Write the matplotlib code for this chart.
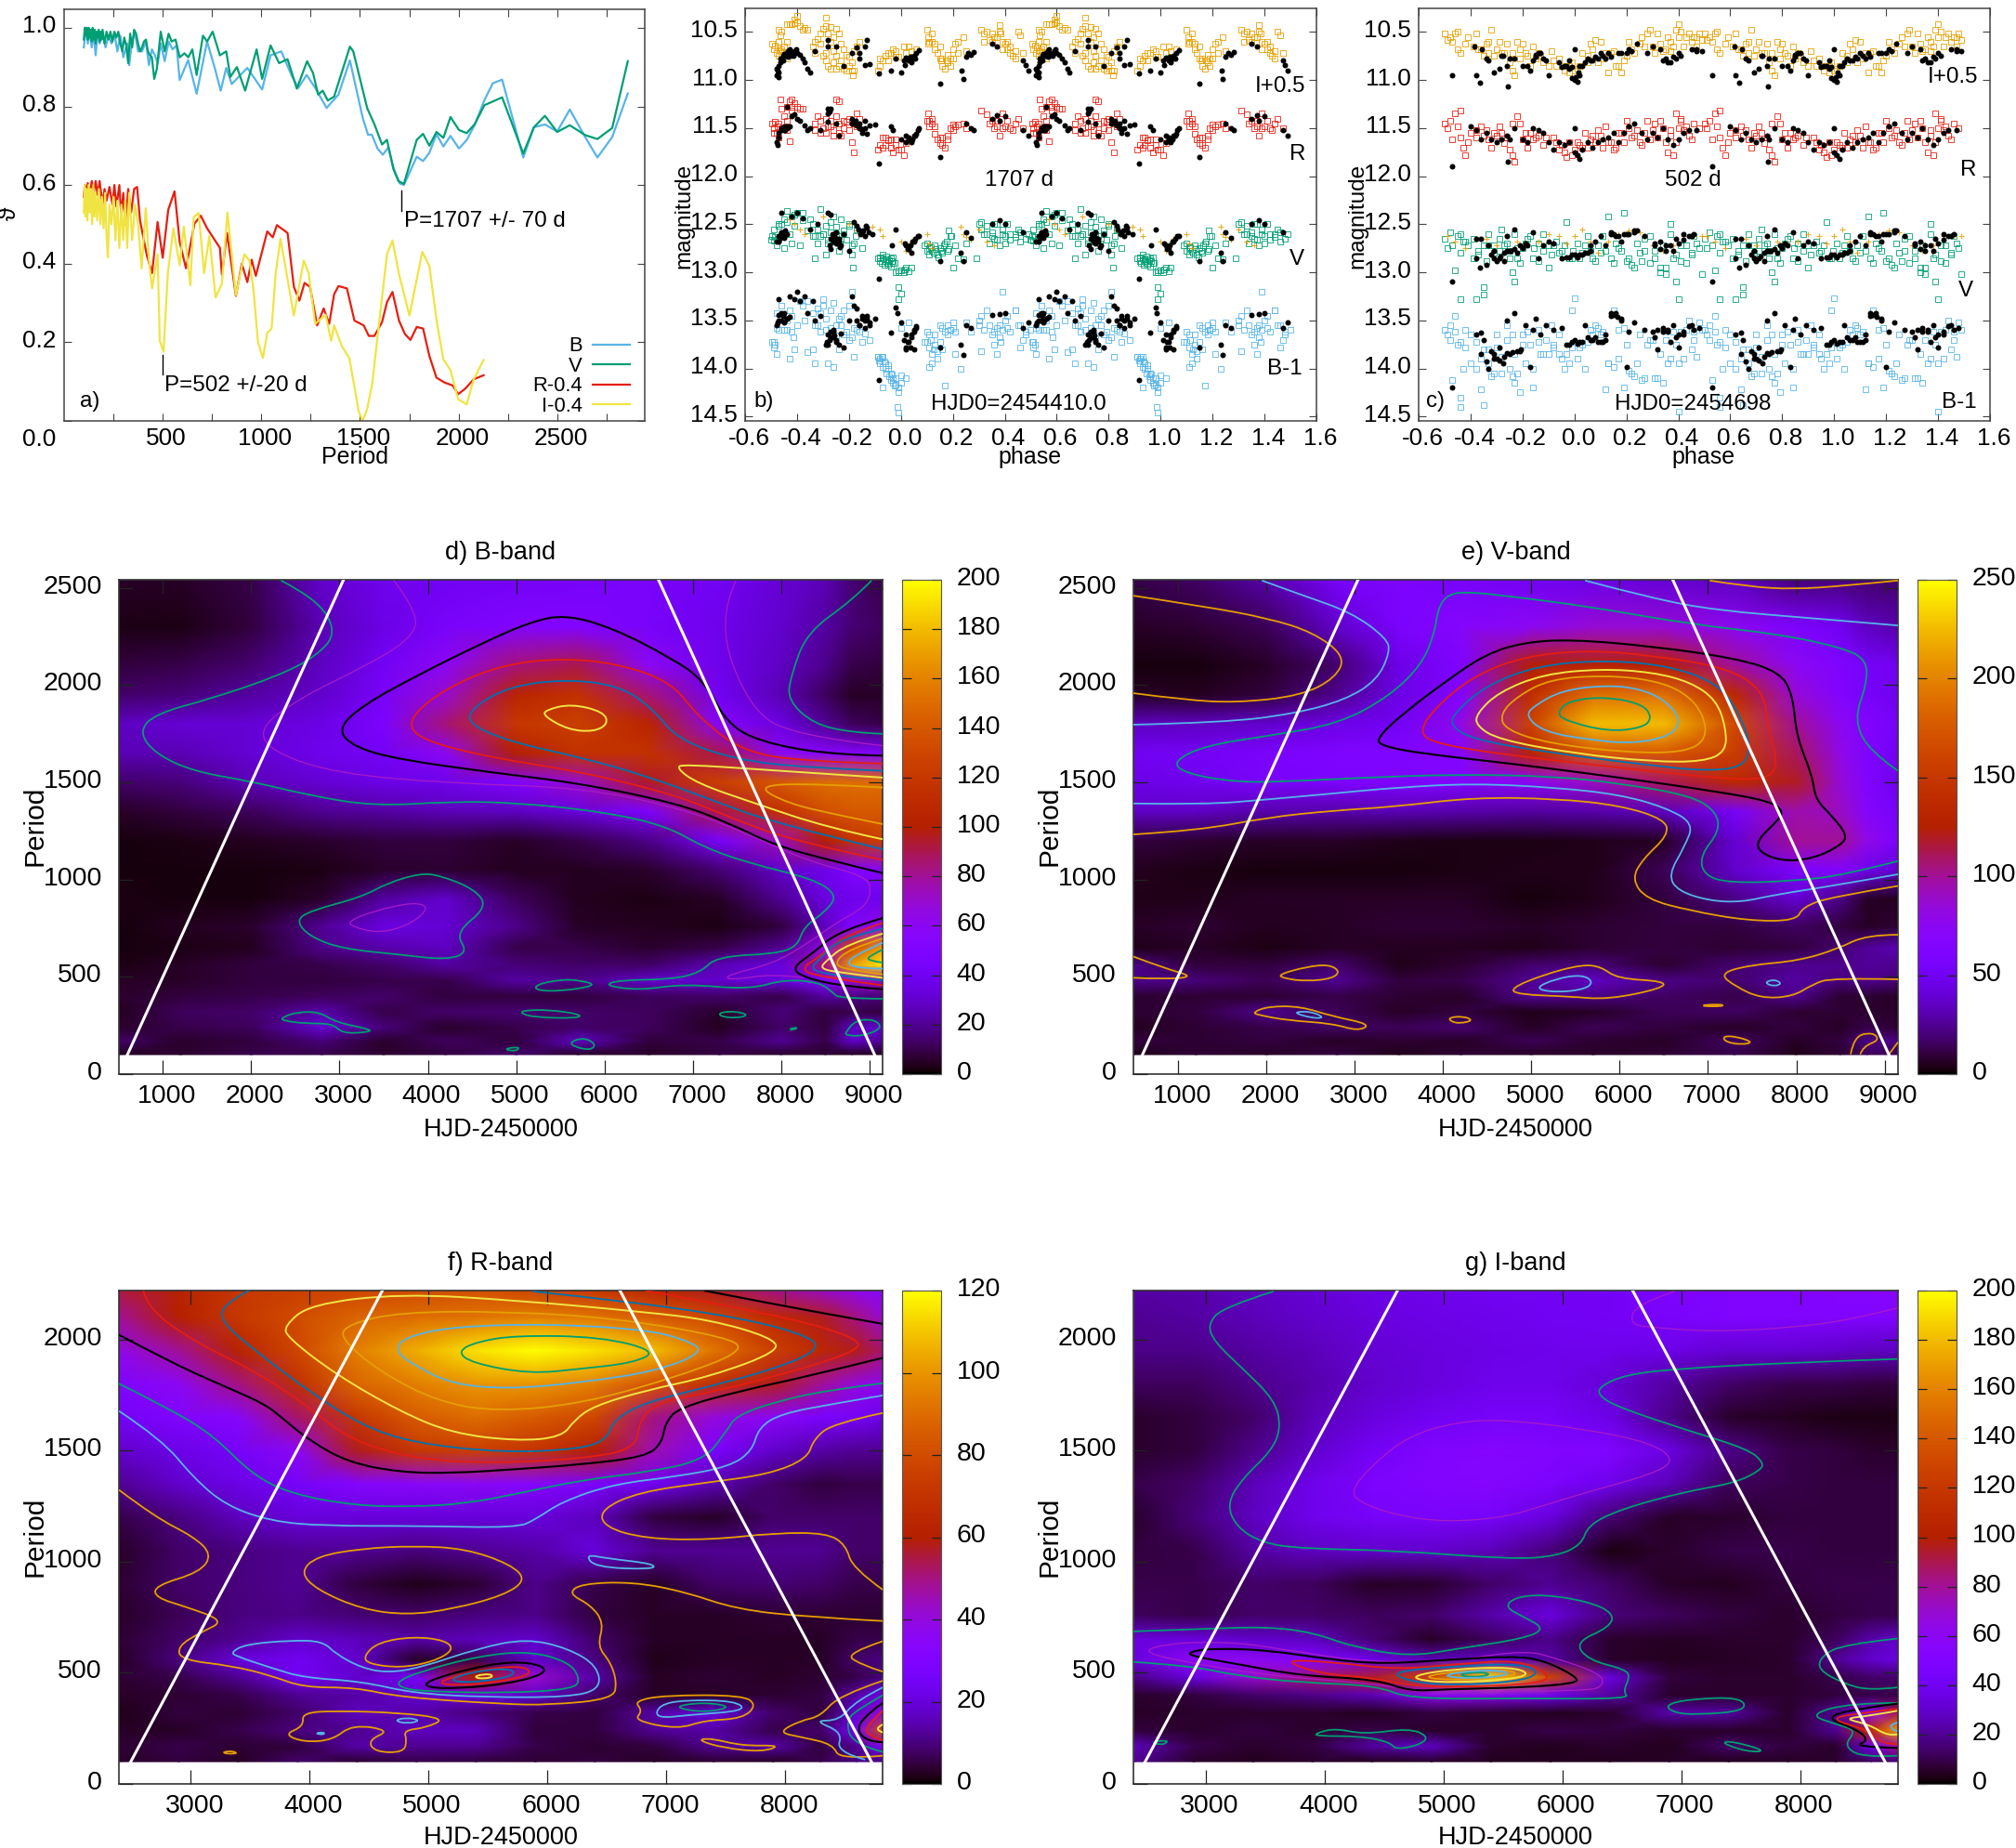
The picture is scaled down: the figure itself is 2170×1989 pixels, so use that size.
import numpy as np
import matplotlib
matplotlib.use('Agg')
import matplotlib.pyplot as plt
from matplotlib.path import Path
from matplotlib.patches import PathPatch
from matplotlib.transforms import ScaledTranslation

plt.rcParams['font.family'] = ['Liberation Sans', 'DejaVu Sans']
W, H = 2170, 1989
FS_NOTE = 17.4
FS_TICK = 18.8
FS_HEAT = 20.5
FS_LABEL = 19.5

SKY, GREEN, ORANGE, YELLOW, BLUE, RED, PURPLE = '#56b4e9', '#009e73', '#e69f00', '#f0e442', '#0072b2', '#e51e10', '#a81cc8'

# ---- panel a: theta statistics
v_curve = [(100,.97),(105,1.0),(110,.98),(115,1.0),(120,.97),(125,1.0),(130,.975),(135,.995),(140,.965),(145,1.0),(150,.97),(155,.995),(160,.96),(165,.99),(170,.975),(175,.995),(180,.965),(185,.99),(190,.97),(195,.995),(205,.96),(215,.99),(225,.97),(235,.99),(245,.965),(255,.99),(265,.975),(275,.99),(285,.96),(295,.94),(305,.975),(315,.955),(325,.91),(335,.985),(345,.95),(355,.995),(365,.985),(375,.96),(385,.94),(395,.95),(405,.965),(415,.97),(425,.94),(435,.93),(445,.925),(457,.87),(470,.895),(490,.99),(510,.94),(530,.985),(545,.965),(565,.97),(586,.925),(610,.935),(630,.925),(650,.945),(672,.88),(704,.98),(725,.965),(753,.99),(790,.93),(822,.94),(843,.875),(876,.90),(918,.84),(976,.945),(1004,.87),(1047,.955),(1090,.91),(1133,.92),(1180,.845),(1232,.915),(1262,.885),(1288,.83),(1311,.84),(1337,.815),(1369,.825),(1449,.952),(1466,.94),(1537,.795),(1573,.755),(1612,.703),(1637,.715),(1670,.64),(1695,.61),(1723,.603),(1788,.715),(1820,.73),(1852,.70),(1888,.735),(1923,.72),(1959,.773),(2002,.74),(2041,.732),(2082,.755),(2131,.803),(2221,.823),(2328,.68),(2382,.747),(2438,.776),(2500,.735),(2564,.752),(2642,.727),(2704,.717),(2779,.745),(2858,.915)]
b_curve = [(100,.95),(110,1.0),(120,.96),(130,.99),(140,.95),(150,.985),(160,.93),(170,.99),(180,.96),(195,.985),(210,.95),(225,.98),(240,.96),(255,.985),(270,.94),(285,.98),(300,.925),(320,.96),(330,.905),(345,.97),(360,.985),(375,.94),(395,.94),(415,.965),(430,.905),(445,.945),(460,.93),(475,.91),(490,.96),(510,.915),(530,.965),(550,.945),(570,.955),(586,.867),(629,.918),(672,.832),(725,.965),(768,.89),(794,.84),(822,.898),(850,.857),(929,.898),(1004,.843),(1047,.93),(1101,.94),(1154,.878),(1187,.847),(1230,.88),(1273,.847),(1331,.796),(1391,.83),(1449,.917),(1515,.769),(1541,.728),(1560,.728),(1590,.692),(1616,.677),(1644,.696),(1670,.643),(1702,.604),(1723,.60),(1788,.672),(1820,.661),(1852,.682),(1888,.729),(1923,.698),(1959,.725),(2002,.693),(2041,.714),(2082,.753),(2131,.816),(2174,.859),(2221,.868),(2328,.67),(2382,.747),(2438,.754),(2500,.736),(2564,.792),(2642,.722),(2704,.67),(2779,.722),(2858,.833)]
r_curve = [(100,.57),(105,.6),(110,.575),(120,.605),(130,.57),(140,.61),(150,.58),(160,.61),(170,.575),(180,.61),(195,.55),(205,.59),(215,.56),(230,.595),(245,.55),(255,.60),(265,.545),(280,.60),(290,.52),(300,.58),(310,.50),(325,.59),(340,.53),(355,.59),(370,.595),(385,.51),(403,.463),(420,.42),(446,.376),(474,.506),(500,.415),(528,.537),(560,.584),(586,.455),(618,.388),(661,.502),(693,.522),(725,.49),(790,.44),(800,.372),(826,.478),(871,.318),(901,.40),(929,.353),(951,.41),(972,.369),(1030,.482),(1058,.467),(1079,.498),(1133,.478),(1165,.341),(1193,.306),(1219,.351),(1247,.341),(1283,.243),(1316,.286),(1344,.247),(1369,.322),(1391,.343),(1434,.337),(1472,.255),(1519,.243),(1545,.216),(1573,.216),(1612,.251),(1637,.302),(1665,.328),(1698,.255),(1728,.221),(1756,.206),(1788,.239),(1820,.235),(1852,.165),(1888,.11),(1927,.098),(1970,.09),(1998,.068),(2034,.082),(2077,.106),(2127,.116)]
i_curve = [(100,.53),(104,.60),(108,.52),(112,.59),(118,.51),(124,.60),(130,.53),(136,.59),(142,.50),(148,.60),(154,.52),(160,.58),(168,.51),(176,.59),(184,.50),(192,.57),(200,.49),(208,.58),(215,.47),(222,.416),(230,.55),(240,.50),(250,.57),(260,.46),(270,.56),(280,.44),(290,.55),(300,.46),(310,.56),(320,.44),(330,.58),(345,.46),(360,.55),(375,.50),(393,.388),(414,.541),(430,.41),(446,.337),(474,.424),(485,.204),(504,.176),(526,.376),(554,.49),(586,.396),(607,.494),(640,.345),(657,.518),(682,.529),(710,.376),(736,.47),(768,.314),(800,.349),(828,.53),(871,.32),(914,.424),(940,.408),(961,.33),(983,.20),(1008,.16),(1030,.224),(1052,.235),(1073,.376),(1097,.463),(1133,.361),(1165,.268),(1215,.408),(1240,.376),(1273,.247),(1326,.27),(1354,.204),(1369,.243),(1408,.19),(1446,.16),(1494,.024),(1513,0),(1535,.027),(1562,.094),(1637,.424),(1665,.459),(1698,.373),(1751,.268),(1816,.43),(1852,.394),(1890,.25),(1923,.157),(1959,.129),(1998,.055),(2041,.042),(2077,.106),(2127,.155)]

# ---- panel b: folded light curves, phase 1707 d (drawn at phase and phase+1)
b_I = [(-.495,10.62),(-.49,10.68),(-.485,10.64),(-.48,10.72),(-.475,10.66),(-.47,10.75),(-.465,10.7),(-.46,10.5),(-.465,10.54),(-.47,10.48),(-.45,10.65),(-.44,10.78),(-.44,10.42),(-.43,10.42),(-.42,10.42),(-.41,10.41),(-.41,10.37),(-.40,10.4),(-.40,10.33),(-.39,10.44),(-.38,10.48),(-.37,10.46),(-.36,10.48),(-.33,10.6),(-.32,10.57),(-.31,10.52),(-.30,10.47),(-.29,10.35),(-.29,10.44),(-.28,10.52),(-.27,10.45),(-.26,10.55),(-.25,10.47),(-.24,10.52),(-.23,10.62),(-.22,10.68),(-.21,10.74),(-.3,10.75),(-.29,10.8),(-.28,10.85),(-.27,10.88),(-.26,10.82),(-.25,10.88),(-.24,10.85),(-.23,10.8),(-.2,10.76),(-.19,10.82),(-.185,10.95),(-.18,10.9),(-.18,10.7),(-.17,10.65),(-.16,10.6),(-.09,10.9),(-.08,10.85),(-.07,10.8),(-.06,10.75),(-.05,10.8),(-.04,10.72),(-.03,10.68),(-.02,10.7),(-.01,10.76),(.01,10.65),(.02,10.72),(.04,10.7),(.06,10.68),(.1,10.48),(.105,10.55),(.11,10.6),(.12,10.6),(.13,10.68),(.14,10.72),(.15,10.65),(.155,10.8),(.16,10.85),(.17,10.88),(.175,10.8),(.18,10.82),(.19,10.78),(.2,10.68),(.21,10.62),(.22,10.6),(.24,10.55),(.25,10.7),(.31,10.48),(.32,10.52),(.33,10.5),(.34,10.58),(.35,10.6),(.36,10.55),(.37,10.55),(.38,10.43),(.385,10.52),(.39,10.6),(.40,10.62),(.41,10.68),(.42,10.72),(.43,10.75),(.44,10.78),(.45,10.5),(.46,10.54),(.47,10.72),
       (-.47,10.6),(-.46,10.68),(-.45,10.72),(-.44,10.6),(-.34,10.65),(-.33,10.72),(-.31,10.62),(-.29,10.72),(-.27,10.6),(-.26,10.7),(-.25,10.75),(-.22,10.88),(-.21,10.9),(-.2,10.85),(-.19,10.9),(-.08,10.78),(-.05,10.72),(-.02,10.76),(.03,10.65),(.105,10.62),(.12,10.52),(.13,10.62),(.15,10.78),(.16,10.78),(.18,10.74),(.19,10.85),(.2,10.78),(.22,10.72),(.32,10.6),(.35,10.52),(.38,10.5),(.39,10.68),(.41,10.6),(.42,10.65),(.44,10.7)]
b_I_k = [(-.48,10.95),(-.475,10.9),(-.47,10.97),(-.47,10.85),(-.465,10.82),(-.46,10.8),(-.455,10.75),(-.45,10.73),(-.44,10.72),(-.435,10.76),(-.43,10.68),(-.425,10.75),(-.41,10.7),(-.4,10.72),(-.39,10.74),(-.38,10.78),(-.37,10.82),(-.36,10.88),(-.35,10.92),(-.33,10.7),(-.28,10.65),(-.28,10.58),(-.25,10.65),(-.22,10.85),(-.19,10.72),(-.17,10.66),(-.16,10.72),(-.16,10.78),(-.14,10.65),(-.13,10.58),(-.14,10.84),(-.12,10.83),(-.085,10.93),(-.04,10.9),(-.02,10.78),(0,10.92),(.02,10.77),(.03,10.8),(.04,10.82),(.05,10.75),(.06,10.72),(.07,10.69),(.15,11.04),(.235,10.9),(.24,10.99),(.25,10.76),(.26,10.72),(.27,10.74),(.28,10.71),(.35,10.62),(.37,10.65),(.47,10.8),(.48,10.84),(.49,10.9),
         (-.48,10.88),(-.47,10.92),(-.465,10.78),(-.455,10.8),(-.445,10.75),(-.435,10.7),(-.425,10.72),(-.415,10.75),(-.405,10.68),(.01,10.8),(.015,10.84),(.035,10.76),(.045,10.78),(.055,10.78)]
b_R = [(-.495,11.45),(-.49,11.5),(-.485,11.43),(-.48,11.55),(-.475,11.48),(-.47,11.6),(-.47,11.45),(-.46,11.3),(-.465,11.2),(-.45,11.38),(-.44,11.28),(-.43,11.22),(-.42,11.2),(-.42,11.32),(-.41,11.24),(-.40,11.28),(-.39,11.3),(-.38,11.3),(-.43,11.64),(-.44,11.52),(-.33,11.52),(-.32,11.38),(-.31,11.42),(-.30,11.5),(-.29,11.55),(-.28,11.48),(-.27,11.42),(-.26,11.52),(-.25,11.2),(-.24,11.22),(-.24,11.45),(-.23,11.58),(-.22,11.5),(-.21,11.43),(-.2,11.52),(-.19,11.65),(-.18,11.75),(-.18,11.45),(-.17,11.35),(-.16,11.4),(-.09,11.72),(-.08,11.68),(-.07,11.6),(-.06,11.68),(-.05,11.63),(-.04,11.7),(-.03,11.75),(-.02,11.62),(-.01,11.72),(.01,11.78),(.02,11.66),(.1,11.42),(.105,11.35),(.11,11.48),(.12,11.45),(.13,11.56),(.14,11.62),(.15,11.66),(.16,11.6),(.17,11.7),(.18,11.58),(.19,11.5),(.2,11.52),(.22,11.46),(.24,11.45),(.25,11.5),(.31,11.32),(.33,11.36),(.34,11.45),(.36,11.5),(.37,11.42),(.38,11.58),(.39,11.35),(.40,11.48),(.42,11.5),(.44,11.45),(.45,11.4),(.47,11.5),
       (-.49,11.55),(-.46,11.5),(-.44,11.42),(-.42,11.28),(-.33,11.45),(-.31,11.55),(-.29,11.4),(-.27,11.48),(-.26,11.58),(-.25,11.38),(-.24,11.55),(-.22,11.42),(-.2,11.4),(-.17,11.48),(-.07,11.7),(-.06,11.6),(-.04,11.62),(-.02,11.68),(.0,11.72),(.11,11.42),(.12,11.4),(.13,11.48),(.15,11.6),(.16,11.68),(.18,11.62),(.2,11.46),(.21,11.48),(.35,11.42),(.37,11.48),(.39,11.5),(.41,11.42),(.43,11.52)]
b_R_k = [(-.48,11.65),(-.475,11.68),(-.47,11.6),(-.46,11.5),(-.45,11.52),(-.44,11.5),(-.43,11.48),(-.44,11.28),(-.42,11.38),(-.41,11.36),(-.4,11.4),(-.39,11.42),(-.37,11.47),(-.36,11.52),(-.35,11.5),(-.31,11.52),(-.28,11.3),(-.27,11.3),(-.28,11.43),(-.25,11.45),(-.24,11.58),(-.19,11.4),(-.18,11.44),(-.17,11.47),(-.16,11.5),(-.15,11.55),(-.14,11.42),(-.13,11.56),(-.12,11.47),(-.1,11.46),(-.085,11.87),(-.04,11.48),(-.03,11.52),(0,11.62),(.02,11.58),(.03,11.62),(.04,11.65),(.05,11.58),(.06,11.56),(.07,11.5),(.15,11.8),(.25,11.45),(.27,11.5),(.28,11.52),(.35,11.4),(.37,11.37),(.38,11.42),(.4,11.38),(.47,11.52),(.49,11.58),
         (-.47,11.55),(-.46,11.52),(-.455,11.5),(-.45,11.48),(-.445,11.52),(-.44,11.48),(-.28,11.35),(-.275,11.33),(-.19,11.45),(-.175,11.42),(-.16,11.45),(-.155,11.5),(.02,11.65),(.03,11.6),(.045,11.62),(.055,11.58),(.065,11.52),(-.15,11.52),(-.14,11.5)]
b_V = [(-.495,12.62),(-.49,12.67),(-.485,12.63),(-.48,12.72),(-.47,12.5),(-.47,12.65),(-.46,12.5),(-.45,12.45),(-.44,12.36),(-.45,12.75),(-.43,12.6),(-.42,12.7),(-.41,12.4),(-.39,12.72),(-.38,12.38),(-.35,12.45),(-.34,12.62),(-.33,12.85),(-.32,12.7),(-.31,12.34),(-.30,12.6),(-.29,12.82),(-.28,12.7),(-.27,12.48),(-.26,12.42),(-.25,12.6),(-.24,12.78),(-.23,12.45),(-.22,12.6),(-.2,12.52),(-.19,12.82),(-.185,12.95),(-.18,12.7),(-.17,12.55),(-.15,12.75),(-.09,12.85),(-.08,12.88),(-.07,12.82),(-.06,12.86),(-.05,12.9),(-.04,12.85),(-.03,12.9),(-.02,13.0),(-.01,12.98),(.01,13.0),(.02,12.95),(-.01,13.15),(0,13.22),(-.01,13.28),(.1,12.7),(.11,12.75),(.12,12.78),(.13,12.72),(.14,12.82),(.15,12.75),(.16,12.8),(.17,12.7),(.18,12.78),(.19,12.62),(.2,12.95),(.21,12.72),(.22,12.85),(.24,12.86),(.25,12.7),(.29,12.85),(.31,12.48),(.32,12.6),(.33,12.52),(.34,12.7),(.35,12.58),(.36,12.65),(.37,12.5),(.38,12.72),(.39,12.6),(.40,12.7),(.42,12.6),(.44,12.63),(.46,12.58),(.48,12.65),
       (-.32,12.55),(-.31,12.62),(-.30,12.6),(-.29,12.52),(-.28,12.66),(-.27,12.58),(-.26,12.68),(-.25,12.53),(-.24,12.62),(-.235,12.7),(-.22,12.56),(-.21,12.66),(-.2,12.5),(-.19,12.72),(-.175,12.62),(-.08,12.84),(-.075,12.9),(-.07,12.85),(-.065,12.92),(-.06,12.88),(-.055,12.83),(-.05,12.92),(-.045,12.87),(-.04,12.94),(-.035,12.88),(-.03,12.84),(-.025,12.9),(-.01,13.0),(.0,12.98),(.015,12.97),(.03,12.99),(.04,12.95),(.09,12.72),(.1,12.78),(.11,12.82),(.115,12.74),(.125,12.8),(.135,12.76),(.145,12.84),(.155,12.78),(.165,12.72),(.175,12.68),(.185,12.76),(.195,12.62),(.185,12.56),(.3,12.5),(.31,12.55),(.33,12.6),(.35,12.62),(.36,12.5),(.37,12.66),(.39,12.55),(.4,12.62),(.41,12.5),(.42,12.66),(.44,12.6),(.45,12.55),(.46,12.68),(.49,12.6),(-.5,12.66),(-.49,12.55),(-.47,12.52),(-.46,12.6),(-.44,12.48),(-.42,12.42),(-.41,12.52),(-.4,12.38),(-.38,12.46),(-.36,12.56),(-.34,12.5),(-.33,12.62)]
b_V_o = [(-.43,12.45),(-.41,12.5),(-.39,12.55),(-.37,12.6),(-.35,12.55),(-.3,12.42),(-.2,12.5),(-.17,12.56),(-.15,12.6),(-.13,12.55),(-.11,12.53),(-.08,12.55),(-.07,12.62),(.0,12.68),(.02,12.78),(.03,12.72),(.05,12.65),(.1,12.6),(.11,12.7),(.12,12.75),(.23,12.53),(.24,12.6),(.25,12.63),(.27,12.66),(.3,12.55),(.33,12.68),(.36,12.72)]
b_V_k = [(-.48,12.68),(-.47,12.62),(-.46,12.58),(-.45,12.64),(-.44,12.6),(-.46,12.38),(-.42,12.42),(-.4,12.38),(-.38,12.44),(-.35,12.55),(-.32,12.5),(-.28,12.38),(-.27,12.4),(-.26,12.62),(-.25,12.7),(-.24,12.65),(-.23,12.72),(-.22,12.6),(-.2,12.78),(-.18,12.48),(-.17,12.52),(-.15,12.58),(-.14,12.62),(-.13,12.54),(-.11,12.6),(-.085,13.07),(-.035,12.72),(-.02,12.55),(.02,12.72),(.03,12.76),(.04,12.8),(.05,12.68),(.07,12.62),(.15,12.88),(.23,12.8),(.24,12.88),(.25,12.58),(.27,12.64),(.35,12.5),(.38,12.46),(.4,12.5),(.47,12.58),
         (-.275,12.72),(-.27,12.65),(-.265,12.6),(-.26,12.68),(-.255,12.62),(-.25,12.58),(-.245,12.65),(-.24,12.68),(-.235,12.74),(-.27,12.76),(-.165,12.55),(-.155,12.6),(-.145,12.56),(-.135,12.52),(-.125,12.58),(.015,12.7),(.025,12.76),(.035,12.72),(.045,12.68),(.055,12.65),(.065,12.62),(-.47,12.68),(-.465,12.64),(-.46,12.6),(-.455,12.62),(-.45,12.58),(-.445,12.56)]
b_B = [(-.495,13.72),(-.49,13.78),(-.485,13.75),(-.48,13.85),(-.48,13.42),(-.47,13.6),(-.46,13.35),(-.45,13.6),(-.44,13.5),(-.43,13.4),(-.42,13.62),(-.41,13.8),(-.39,13.3),(-.37,13.5),(-.36,13.83),(-.34,13.8),(-.33,13.95),(-.32,13.55),(-.31,13.42),(-.3,13.35),(-.29,13.6),(-.28,13.95),(-.27,13.4),(-.26,13.98),(-.25,13.55),(-.24,13.8),(-.23,13.45),(-.22,13.65),(-.2,13.35),(-.19,13.2),(-.18,13.88),(-.17,13.6),(-.15,13.72),(-.12,13.7),(-.09,13.88),(-.08,13.9),(-.07,13.88),(-.06,13.95),(-.05,14.0),(-.04,14.05),(-.03,14.1),(-.02,14.17),(-.01,14.25),(.0,14.15),(.02,14.1),(-.015,14.4),(-.01,14.46),(-.07,14.2),(.0,13.58),(.03,13.52),(.1,13.72),(.11,13.65),(.12,13.85),(.13,13.75),(.14,13.9),(.15,13.55),(.16,13.8),(.17,14.18),(.18,13.65),(.19,13.6),(.2,13.52),(.21,13.85),(.23,14.0),(.25,13.52),(.27,13.62),(.3,13.5),(.31,13.82),(.33,13.4),(.35,13.65),(.36,13.75),(.37,13.85),(.38,13.55),(.39,13.2),(.41,13.58),(.44,13.4),(.46,13.55),(.48,13.65),
       (-.38,13.35),(-.36,13.3),(-.34,13.42),(-.33,13.55),(-.32,13.38),(-.31,13.62),(-.3,13.28),(-.29,13.48),(-.27,13.58),(-.26,13.32),(-.25,13.66),(-.24,13.48),(-.23,13.55),(-.22,13.4),(-.21,13.62),(-.2,13.7),(-.19,13.68),(-.18,13.58),(-.16,13.62),(-.14,13.64),(-.09,13.88),(-.085,13.92),(-.08,13.95),(-.075,13.88),(-.07,13.98),(-.065,13.93),(-.06,14.0),(-.055,14.05),(-.05,13.97),(-.045,14.08),(-.04,14.12),(-.035,14.06),(-.03,14.15),(-.025,14.18),(-.02,14.1),(-.01,14.2),(0,14.07),(.09,13.72),(.1,13.62),(.11,13.78),(.115,13.7),(.125,13.8),(.13,13.65),(.14,13.82),(.15,13.72),(.16,13.58),(.17,13.62),(.18,13.55),(.19,13.6),(.2,13.58),(.21,13.62),(.12,13.95),(.11,13.98),(.3,13.55),(.31,13.45),(.32,13.6),(.34,13.55),(.36,13.62),(.37,13.58),(.38,13.68),(.39,13.6),(.385,13.72),(.4,13.5),(.41,13.45),(.42,13.62),(.44,13.4),(.45,13.55),(.46,13.78),(.47,13.7),(.48,13.62),(.5,13.6),(-.49,13.72),(-.48,13.58),(-.45,13.5),(-.44,13.6),(-.42,13.45),(-.4,13.55),(-.415,13.68),(-.43,13.9)]
b_B_k = [(-.48,13.55),(-.47,13.5),(-.46,13.42),(-.45,13.52),(-.44,13.48),(-.47,13.28),(-.43,13.25),(-.41,13.28),(-.4,13.2),(-.39,13.3),(-.37,13.25),(-.36,13.42),(-.34,13.3),(-.33,13.5),(-.31,13.45),(-.28,13.75),(-.27,13.68),(-.26,13.62),(-.25,13.7),(-.24,13.75),(-.23,13.64),(-.22,13.78),(-.2,13.5),(-.19,13.25),(-.18,13.35),(-.17,13.38),(-.16,13.55),(-.15,13.48),(-.14,13.58),(-.13,13.45),(-.12,13.52),(-.1,13.48),(-.085,14.12),(-.04,13.63),(-.02,13.37),(-.015,13.42),(.0,13.52),(.01,13.7),(.02,13.78),(.03,13.72),(.04,13.65),(.05,13.6),(.06,13.56),(.15,13.78),(.23,13.75),(.24,13.86),(.25,13.55),(.27,13.58),(.35,13.44),(.38,13.43),(.4,13.42),(.47,13.58),(.49,13.52),
         (-.29,13.75),(-.285,13.72),(-.28,13.65),(-.275,13.7),(-.27,13.62),(-.265,13.68),(-.26,13.6),(-.255,13.66),(-.25,13.72),(-.17,13.5),(-.16,13.55),(-.15,13.45),(-.14,13.5),(-.13,13.48),(-.12,13.55),(.02,13.65),(.025,13.72),(.035,13.78),(.04,13.68),(.05,13.62),(.06,13.58),(.02,13.8),(.05,13.8),(-.475,13.52),(-.47,13.44),(-.46,13.5),(-.455,13.45),(-.45,13.42),(-.44,13.48),(-.43,13.46)]

# ---- panel c: phase 502 d
c_I = [(-.5,10.52),(-.49,10.58),(-.48,10.55),(-.47,10.6),(-.46,10.52),(-.45,10.5),(-.45,10.68),(-.44,10.72),(-.42,10.62),(-.41,10.55),(-.39,10.65),(-.38,10.52),(-.36,10.68),(-.34,10.62),(-.33,10.72),(-.32,10.48),(-.3,10.68),(-.28,10.72),(-.26,10.62),(-.25,10.82),(-.24,10.9),(-.23,10.95),(-.22,10.6),(-.21,10.78),(-.2,10.62),(-.18,10.75),(-.17,10.85),(-.15,10.78),(-.14,10.72),(-.12,10.82),(-.08,10.8),(-.06,10.78),(-.05,10.85),(-.03,10.85),(-.02,10.92),(-.01,10.82),(0,10.9),(.02,10.85),(.05,10.82),(.06,10.62),(.08,10.58),(.09,10.82),(.1,10.6),(.12,10.72),(.13,10.92),(.14,10.72),(.16,10.85),(.18,10.92),(.2,10.75),(.21,10.6),(.22,10.68),(.25,10.62),(.27,10.65),(.28,10.52),(.29,10.48),(.31,10.72),(.32,10.52),(.33,10.62),(.35,10.68),(.36,10.55),(.37,10.6),(.38,10.65),(.39,10.48),(.4,10.42),(.41,10.5),(.43,10.55),(.44,10.52),(.46,10.55),(.47,10.65),(.48,10.52),(.49,10.58),
       (-.37,10.68),(-.35,10.75),(-.33,10.6),(-.31,10.75),(-.29,10.6),(-.27,10.72),(-.24,10.72),(-.21,10.68),(-.19,10.72),(-.16,10.65),(-.13,10.75),(-.1,10.85),(-.09,10.7),(-.07,10.85),(-.04,10.9),(-.02,10.85),(.01,10.88),(.03,10.72),(.05,10.75),(.07,10.68),(.11,10.78),(.13,10.75),(.15,10.7),(.17,10.85),(.19,10.8),(.23,10.72),(.26,10.55),(.3,10.65),(.34,10.7),(.37,10.7),(.4,10.55),(.42,10.65),(.45,10.6),(.47,10.55)]
c_I_k = [(-.47,10.95),(-.38,10.95),(-.365,11.03),(-.255,11.07),(-.385,10.65),(-.355,10.68),(-.34,10.78),(-.33,10.8),(-.31,10.92),(-.29,10.88),(-.275,10.75),(-.26,10.85),(-.25,10.78),(-.23,10.78),(-.2,10.85),(-.18,10.85),(-.17,10.9),(-.15,10.76),(-.14,10.72),(-.12,10.78),(-.11,10.8),(-.1,10.95),(-.06,10.82),(-.05,10.86),(-.04,10.85),(-.02,10.8),(0,10.68),(-.01,10.98),(0,11.0),(.01,11.02),(.02,10.95),(.03,10.85),(.05,10.78),(.07,10.8),(.09,10.78),(.11,10.75),(.13,10.72),(.14,10.76),(.17,10.72),(.2,10.72),(.22,10.7),(.24,10.62),(.28,10.72),(.3,10.65),(.33,10.68),(.35,10.78),(.37,10.82),(.39,10.78),(.41,10.75),(.47,10.68),(.49,10.7),
         (-.28,10.75),(-.16,10.8),(-.15,10.74),(-.13,10.72),(-.03,10.85),(-.02,10.88),(-.01,10.86),(.005,10.97),(.015,10.92),(.02,10.85),(.04,10.82),(.06,10.8),(.08,10.76),(.1,10.72),(.12,10.78),(.18,10.72),(.21,10.68),(.34,10.8),(.36,10.82),(.38,10.76),(.4,10.72),(.45,10.68),(.47,10.7)]
c_R = [(-.5,11.45),(-.49,11.5),(-.48,11.42),(-.47,11.62),(-.46,11.35),(-.45,11.48),(-.44,11.32),(-.44,11.6),(-.43,11.7),(-.42,11.78),(-.41,11.65),(-.4,11.55),(-.38,11.6),(-.36,11.48),(-.34,11.52),(-.32,11.7),(-.3,11.58),(-.28,11.55),(-.26,11.6),(-.25,11.72),(-.24,11.78),(-.23,11.85),(-.22,11.38),(-.21,11.45),(-.2,11.62),(-.18,11.7),(-.16,11.62),(-.14,11.58),(-.12,11.68),(-.08,11.6),(-.06,11.72),(-.04,11.75),(-.03,11.8),(-.02,11.65),(0,11.72),(.02,11.68),(.04,11.55),(.05,11.7),(.07,11.58),(.09,11.52),(.11,11.7),(.12,11.48),(.14,11.65),(.16,11.7),(.18,11.55),(.2,11.42),(.22,11.6),(.24,11.52),(.26,11.68),(.28,11.42),(.3,11.52),(.32,11.6),(.33,11.42),(.35,11.65),(.36,11.75),(.37,11.52),(.38,11.78),(.39,11.35),(.4,11.5),(.41,11.42),(.42,11.52),(.44,11.58),(.46,11.45),(.48,11.5),
       (-.38,11.52),(-.35,11.58),(-.33,11.62),(-.31,11.55),(-.29,11.48),(-.27,11.66),(-.24,11.45),(-.19,11.55),(-.17,11.55),(-.15,11.6),(-.11,11.6),(-.07,11.65),(-.05,11.68),(-.01,11.78),(.01,11.65),(.03,11.7),(.06,11.62),(.08,11.65),(.1,11.58),(.13,11.65),(.15,11.72),(.17,11.55),(.19,11.65),(.21,11.5),(.23,11.58),(.25,11.65),(.27,11.55),(.29,11.62),(.31,11.45),(.34,11.5),(.37,11.58),(.39,11.65),(.41,11.4),(.43,11.48),(.45,11.62)]
c_R_k = [(-.47,11.9),(-.255,11.85),(-.4,11.48),(-.38,11.52),(-.36,11.62),(-.34,11.55),(-.32,11.62),(-.3,11.65),(-.28,11.62),(-.26,11.58),(-.25,11.62),(-.23,11.5),(-.2,11.62),(-.18,11.65),(-.16,11.5),(-.14,11.52),(-.12,11.55),(-.1,11.65),(-.08,11.72),(-.06,11.65),(-.04,11.68),(-.02,11.65),(0,11.5),(.0,11.75),(.01,11.78),(.02,11.82),(.03,11.72),(.05,11.65),(.07,11.7),(.09,11.65),(.11,11.62),(.13,11.6),(.15,11.55),(.17,11.65),(.19,11.55),(.21,11.48),(.23,11.45),(.26,11.55),(.28,11.62),(.3,11.55),(.32,11.6),(.34,11.5),(.36,11.62),(.38,11.68),(.4,11.62),(.42,11.55),(.44,11.52),(.47,11.52)]
c_V = [(-.5,12.65),(-.49,12.75),(-.48,12.58),(-.47,12.72),(-.46,12.98),(-.45,12.62),(-.44,12.8),(-.44,13.28),(-.42,12.68),(-.39,12.85),(-.38,13.28),(-.37,12.82),(-.35,13.15),(-.35,13.23),(-.33,12.72),(-.31,12.8),(-.29,12.65),(-.27,12.72),(-.25,12.78),(-.24,13.0),(-.23,13.1),(-.22,12.85),(-.2,12.75),(-.18,12.65),(-.16,12.85),(-.14,12.7),(-.12,12.78),(-.1,12.95),(-.08,12.72),(-.06,12.8),(-.03,12.48),(-.01,12.85),(.01,12.7),(.03,12.8),(.05,12.62),(.07,12.85),(.09,12.72),(.11,12.62),(.13,12.42),(.15,12.9),(.17,12.75),(.19,12.38),(.21,12.85),(.23,12.95),(.25,12.8),(.27,12.65),(.29,12.9),(.31,12.78),(.33,13.0),(.35,13.02),(.37,12.5),(.38,12.85),(.39,13.1),(.4,13.28),(.41,12.72),(.43,12.9),(.45,12.82),(.47,12.7),(.49,13.02),
       (-.44,12.6),(-.43,12.68),(-.41,12.72),(-.39,12.65),(-.37,12.78),(-.35,12.72),(-.34,12.88),(-.33,12.6),(-.31,12.72),(-.29,12.78),(-.28,12.55),(-.26,12.7),(-.25,12.85),(-.23,12.6),(-.22,12.75),(-.21,12.9),(-.19,12.7),(-.17,12.62),(-.155,12.75),(-.14,12.88),(-.12,12.6),(-.1,12.72),(-.09,12.82),(-.07,12.68),(-.05,12.78),(-.04,12.72),(-.02,12.85),(-.005,12.78),(.02,12.85),(.04,12.72),(.06,12.78),(.08,12.88),(.1,12.8),(.12,12.78),(.14,12.85),(.16,12.7),(.18,12.78),(.2,12.88),(.22,12.92),(.24,12.7),(.26,12.88),(.27,12.78),(.29,12.62),(.31,12.85),(.33,12.95),(.34,12.72),(.35,12.95),(.37,12.6),(.39,12.82),(.41,12.88),(.43,12.72),(.45,12.8),(.46,12.62),(.48,12.75)]
c_V_o = [(-.49,12.62),(-.46,12.68),(-.42,12.75),(-.38,12.65),(-.34,12.65),(-.3,12.72),(-.26,12.62),(-.22,12.68),(-.18,12.7),(-.14,12.68),(-.1,12.6),(-.06,12.62),(-.03,12.7),(.0,12.62),(.03,12.55),(.06,12.68),(.09,12.8),(.13,12.68),(.17,12.6),(.21,12.56),(.25,12.58),(.3,12.72),(.34,12.78),(.38,12.72),(.42,12.62),(.46,12.62),(.49,12.62)]
c_V_k = [(-.47,13.1),(-.38,12.65),(-.36,12.65),(-.38,12.85),(-.365,12.95),(-.34,12.92),(-.33,12.72),(-.31,12.78),(-.29,12.85),(-.27,12.88),(-.26,12.62),(-.25,12.78),(-.23,12.55),(-.22,12.8),(-.2,12.75),(-.18,12.72),(-.16,12.58),(-.14,12.85),(-.12,12.72),(-.1,12.68),(-.08,12.7),(-.05,12.85),(-.02,12.84),(.0,12.82),(.02,12.82),(.04,12.8),(.06,12.72),(.08,12.68),(.1,12.62),(.12,12.72),(.14,12.6),(.16,12.62),(.18,12.68),(.2,12.6),(.23,12.58),(.27,12.62),(.31,12.72),(.33,12.68),(.35,12.78),(.37,12.72),(.39,12.65),(.42,12.6),(.45,12.62),
         (-.32,12.82),(-.31,12.85),(-.3,12.88),(-.285,12.83),(-.27,12.8),(-.26,12.78),(-.245,12.78),(-.23,12.76),(-.21,12.72),(-.19,12.7),(-.03,12.84),(-.01,12.82),(.01,12.84),(.03,12.82),(.05,12.8),(.06,12.78),(.14,12.58),(.15,12.6),(.17,12.62),(.19,12.6),(.21,12.6),(.23,12.56),(.24,12.56),(.31,12.7),(.33,12.76),(.35,12.72),(.38,12.78),(.4,12.7),(.42,12.66),(.44,12.62),(.46,12.6)]
c_B = [(-.5,13.6),(-.49,13.65),(-.48,13.55),(-.47,14.12),(-.46,13.45),(-.45,13.75),(-.44,14.3),(-.44,14.4),(-.43,14.0),(-.42,13.6),(-.4,13.95),(-.38,14.0),(-.36,14.22),(-.35,14.38),(-.33,13.8),(-.32,14.08),(-.3,13.65),(-.28,14.05),(-.26,13.55),(-.25,14.0),(-.24,14.08),(-.23,14.15),(-.21,14.25),(-.2,13.75),(-.18,13.62),(-.16,14.2),(-.14,13.72),(-.12,13.85),(-.09,13.55),(-.08,13.78),(-.06,13.85),(-.04,14.0),(-.02,13.95),(-.01,13.4),(0,13.27),(.02,13.78),(.04,14.0),(.06,13.6),(.08,13.55),(.1,13.65),(.12,14.22),(.13,13.95),(.15,13.4),(.17,13.9),(.19,14.2),(.2,13.75),(.22,14.05),(.24,13.95),(.26,14.12),(.28,13.75),(.3,13.7),(.32,14.1),(.34,14.15),(.36,13.95),(.38,13.62),(.4,14.45),(.42,13.9),(.44,13.5),(.46,13.62),(.48,13.52),
       (-.48,13.7),(-.46,13.62),(-.44,13.72),(-.42,13.78),(-.4,13.65),(-.38,13.72),(-.36,13.9),(-.35,13.8),(-.33,13.95),(-.31,14.05),(-.3,13.78),(-.28,13.88),(-.26,13.7),(-.24,13.65),(-.23,13.85),(-.22,14.05),(-.2,13.65),(-.19,13.95),(-.17,13.75),(-.16,14.0),(-.14,13.6),(-.13,13.85),(-.11,13.7),(-.1,13.85),(-.08,13.75),(-.06,13.65),(-.05,13.9),(-.03,13.85),(-.01,13.78),(.01,13.9),(.03,13.75),(.05,13.72),(.07,13.65),(.09,13.58),(.11,13.62),(.13,13.95),(.15,13.98),(.17,13.6),(.19,13.58),(.21,14.02),(.23,14.08),(.25,13.65),(.27,14.1),(.29,13.7),(.31,14.1),(.33,13.85),(.35,13.7),(.37,13.9),(.39,13.75),(.4,13.95),(.41,13.62),(.43,13.6),(.45,13.8),(.46,13.7),(.47,13.88),(.49,13.6)]
c_B_k = [(-.47,14.2),(-.38,13.65),(-.36,13.63),(-.36,13.85),(-.35,13.7),(-.34,13.93),(-.33,14.0),(-.31,13.9),(-.29,13.78),(-.275,13.95),(-.26,13.5),(-.25,13.85),(-.23,13.42),(-.21,13.82),(-.19,13.55),(-.17,13.98),(-.15,13.48),(-.16,13.6),(-.13,13.65),(-.11,13.55),(-.08,13.6),(-.05,13.58),(-.02,13.75),(0,13.7),(.02,13.72),(.04,13.55),(.06,13.7),(.08,13.68),(.1,13.72),(.12,13.65),(.14,13.45),(.16,13.42),(.18,13.48),(.2,13.98),(.21,13.62),(.23,13.52),(.27,13.6),(.31,13.68),(.32,13.8),(.34,13.62),(.36,13.6),(.38,13.55),(.4,13.78),(.42,13.65),(.45,13.55),(.48,13.58),
         (-.32,13.82),(-.31,13.85),(-.3,13.9),(-.29,13.92),(-.27,13.88),(-.26,13.84),(-.24,13.83),(-.22,13.82),(-.205,13.8),(-.03,13.75),(-.01,13.72),(.01,13.74),(.03,13.72),(.05,13.68),(.07,13.7),(.09,13.72),(.11,13.72),(.12,13.7),(.14,13.42),(.15,13.44),(.165,13.46),(.18,13.5),(.3,13.62),(.32,13.6),(.34,13.58),(.36,13.62),(.37,13.72),(.39,13.68),(.4,13.65),(.42,13.62),(.44,13.56),(.46,13.6)]

# ---- wavelet maps, amplitude read on a coarse grid, bottom row first
periods_25 = [100,170,240,320,400,480,560,650,760,900,1050,1200,1350,1500,1650,1800,1950,2100,2300,2541]
periods_22 = [100,170,240,320,400,480,560,650,760,900,1050,1200,1350,1500,1650,1800,1950,2100,2220]
hjd_long = [500,1200,2000,2800,3500,4200,5000,5700,6500,7300,8000,8500,8800,9150]
hjd_short = [2400,2900,3400,3900,4400,4900,5400,5900,6400,6900,7400,7900,8300,8600,8820]

amp_d = [[4,6,10,10,6,8,14,6,5,8,6,6,4,4],[14,6,8,16,6,12,8,28,8,10,20,10,30,20],[6,10,12,32,16,6,10,14,12,4,14,8,28,30],[4,12,14,24,10,14,15,14,12,6,16,8,10,8],[6,8,10,12,14,8,8,8,12,14,10,22,18,16],[5,5,8,8,10,10,22,18,30,30,34,50,70,75],[3,5,8,10,14,22,16,14,14,25,34,85,170,195],[2,3,4,18,24,28,10,10,6,10,20,65,130,170],[2,4,6,20,35,32,18,5,4,3,8,28,50,65],[3,2,2,6,22,30,12,4,3,5,20,35,38,38],[2,2,2,3,6,7,4,4,6,15,30,38,50,55],[2,3,4,6,8,8,5,10,18,45,75,100,115,125],[5,8,12,20,22,26,28,34,48,90,115,135,140,140],[14,16,26,32,36,38,50,70,95,125,140,150,150,150],[25,25,32,38,42,60,100,115,115,90,60,55,55,50],[28,32,32,36,48,85,120,125,105,55,35,20,12,10],[14,16,22,30,45,70,105,115,85,40,25,12,5,5],[8,10,15,28,42,60,85,90,60,38,28,18,10,8],[3,3,8,25,36,45,52,52,45,38,30,22,15,12],[5,5,10,30,38,40,42,44,45,40,32,25,15,10]]
amp_e = [[4,8,6,10,4,8,6,6,8,12,4,8,14,14],[10,8,10,6,8,6,14,8,6,16,6,10,22,22],[5,8,12,16,14,18,6,14,10,6,10,6,12,8],[8,10,24,14,6,10,4,6,14,16,8,8,8,6],[8,8,8,12,8,6,25,22,16,12,24,8,8,6],[24,20,14,25,10,12,25,36,22,18,28,20,24,20],[22,10,10,18,4,8,18,20,8,18,24,24,26,24],[4,6,3,6,5,5,4,8,10,8,10,18,26,32],[6,8,5,6,8,8,6,8,10,10,16,10,6,8],[4,4,6,6,6,6,2,4,10,22,40,22,6,5],[5,3,2,2,2,3,4,4,14,38,60,65,48,40],[10,8,6,6,4,3,3,4,6,40,100,100,80,60],[36,36,30,30,32,30,28,30,34,55,95,90,68,55],[45,48,56,60,62,64,75,90,110,135,120,85,65,48],[50,52,58,62,62,68,130,175,175,155,110,80,62,50],[35,35,38,45,52,80,160,225,225,165,100,75,65,55],[6,5,10,24,45,65,140,190,190,135,85,65,55,48],[2,2,6,18,45,62,125,130,125,100,75,62,55,50],[6,8,14,38,58,68,75,85,85,75,60,50,35,30],[12,16,30,55,60,55,50,45,40,35,20,20,18,18]]
amp_f = [[3,5,3,8,4,6,5,4,5,3,4,3,6,10,10],[4,6,4,5,14,12,12,6,4,5,12,14,5,12,30],[3,3,6,10,12,16,16,5,5,12,14,6,8,28,80],[2,5,4,8,16,14,10,6,5,14,20,8,5,18,40],[3,4,6,12,14,18,20,18,8,3,3,4,5,14,22],[4,6,12,24,18,26,60,42,14,3,4,3,4,6,10],[3,10,20,24,18,3,6,18,10,2,3,3,3,8,10],[4,8,12,18,16,14,16,18,8,3,3,3,3,6,6],[3,7,10,11,9,8,10,11,5,3,3,4,4,4,4],[4,8,10,12,5,2,4,11,6,3,8,9,8,6,6],[3,8,10,12,12,10,12,14,20,12,12,12,12,8,8],[6,10,16,20,20,20,20,20,16,5,3,8,8,8,8],[12,18,22,26,32,34,35,32,28,24,15,8,5,6,6],[18,22,26,36,58,72,75,70,60,45,28,18,14,12,12],[25,30,34,52,72,85,90,85,78,50,40,35,28,26,22],[30,36,50,68,88,95,100,100,95,82,68,58,48,40,36],[38,48,62,78,95,105,115,120,115,108,92,75,65,58,52],[48,60,72,80,88,90,92,95,92,85,78,66,58,50,42],[55,62,72,75,78,80,82,78,72,65,58,50,44,38,34]]
amp_g = [[20,6,4,6,4,6,4,4,4,5,4,5,6,12,16],[26,10,6,8,22,28,6,4,6,4,14,8,6,40,80],[8,6,8,6,10,6,6,10,8,6,6,6,20,110,170],[5,6,6,6,4,8,6,4,6,24,22,6,20,60,90],[6,8,14,18,26,60,60,40,22,6,6,6,8,10,10],[18,35,70,85,95,130,190,130,35,8,6,6,10,14,14],[35,60,60,50,38,25,30,22,6,4,5,6,20,30,35],[34,34,30,28,15,5,12,18,6,5,6,6,12,24,30],[12,10,14,14,12,14,24,34,16,12,8,6,8,10,10],[10,10,14,12,5,6,14,20,14,5,4,8,10,10,10],[8,10,22,28,30,30,26,16,3,6,10,10,8,8,8],[6,16,28,38,44,46,44,34,15,5,6,8,8,8,8],[10,14,26,38,48,52,54,48,38,26,12,10,8,8,8],[6,8,18,30,42,50,54,52,50,35,18,10,8,6,6],[6,8,14,26,34,40,44,44,36,18,6,4,3,3,3],[12,12,18,24,30,34,38,38,32,22,14,10,10,8,8],[18,18,22,26,32,34,36,38,38,36,32,32,30,28,28],[20,22,26,30,34,36,38,40,42,46,50,50,50,50,50],[22,24,28,32,36,38,40,40,42,48,50,52,54,55,55]]

# cone of influence, (hjd, period)
cone_d = [[(598,98),(3045,2541)],[(6610,2541),(9057,98)]]
cone_e = [[(594,98),(3036,2541)],[(6601,2541),(9050,98)]]
cone_f = [[(2495,98),(4613,2220)],[(6611,2220),(8728,98)]]
cone_g = [[(2489,98),(4613,2220)],[(6591,2220),(8715,98)]]

# contour traces per colour, (hjd, period)
d_green = [
 [(2337,2537),(2739,2445),(2972,2271),(2739,2148),(2300,2046),(1570,1933),(912,1852),(730,1760),(912,1647),(1351,1555),(2008,1504),(2665,1432),(3396,1377),(4273,1401),(5003,1395),(5953,1350),(6683,1279),(7122,1166),(7633,1084),(8364,1003),(8634,921),(8510,839),(8254,757),(8181,655),(7925,618),(7268,604),(7086,522),(6757,487),(6172,483),(5989,456),(6391,430),(6902,464),(7633,434),(8035,487),(8436,471),(8583,419),(8656,389),(9146,387)],
 [(3907,1031),(3542,982),(3250,910),(2665,839),(2505,788),(2665,706),(3031,644),(3688,614),(4200,587),(4455,624),(4309,726),(4675,859),(4528,951),(4127,1023),(3907,1031)],
 [(5515,487),(5222,460),(5222,430),(5515,426),(5916,456),(5734,481),(5515,487)],
 [(2351,291),(2519,319),(2775,319),(2958,266),(3360,229),(3323,215),(3031,209),(2921,260),(2593,260),(2351,276),(2351,291)],
 [(5076,327),(5368,331),(5734,307),(5697,287),(5222,291),(5054,311),(5076,327)],
 [(7304,317),(7487,323),(7633,303),(7487,287),(7304,297),(7304,317)],
 [(5602,164),(5770,188),(5902,153),(5843,123),(5661,139),(5602,164)],
 [(4894,133),(5040,139),(5003,119),(4894,123),(4894,133)],
 [(8729,215),(8838,276),(9057,282),(9146,235),(8911,194),(8729,200),(8729,215)],
 [(9021,2537),(8802,2435),(8290,2271),(8108,2046),(8071,1923),(8364,1800),(8802,1755),(9146,1749)],
 [(8071,229),(8181,241),(8159,229),(8071,229)],
 [(9146,640),(8984,604),(8984,583),(9146,573)]]
d_purple = [
 [(3615,2537),(3907,2363),(3798,2232),(3250,2087),(2593,1944),(2081,1780),(2227,1657),(2958,1545),(4273,1494),(5734,1473),(6829,1371),(7560,1248),(8290,1095),(8968,1017),(9020,936),(8936,855),(8620,778),(8337,683),(7916,568),(7359,506),(7432,482),(7916,516),(8250,495)],
 [(7487,2537),(7268,2332),(7633,1882),(8144,1739),(9146,1688)],
 [(3104,788),(3396,839),(3834,884),(4017,859),(3834,777),(3469,722),(3140,757),(3104,788)]]
d_black = [
 [(9146,1033),(8583,1095),(7925,1176),(7414,1289),(6829,1391),(5734,1494),(4711,1551),(3688,1616),(3177,1678),(2972,1770),(3250,1893),(3907,2056),(4638,2220),(5149,2322),(5551,2363),(6099,2292),(6756,2138),(7122,2026),(7414,1780),(7925,1688),(8656,1641),(9146,1637)],
 [(9146,802),(8656,737),(8364,624),(8108,542),(8290,491),(8729,450),(9146,436)]]
d_red = [
 [(9146,1596),(8290,1606),(7560,1657),(7048,1841),(6756,2015),(6172,2107),(5551,2138),(4857,2107),(4200,1985),(3761,1821),(3907,1719),(4711,1627),(5734,1555),(6829,1432),(7414,1320),(8144,1197),(9146,1101)],
 [(9146,777),(8729,716),(8436,604),(8217,542),(8400,501),(9146,456)]]
d_blue = [
 [(9146,1559),(8290,1575),(7487,1616),(6829,1719),(6537,1882),(6172,1995),(5588,2030),(4930,1995),(4492,1882),(4455,1800),(4930,1708),(5734,1627),(6464,1534),(7195,1412),(7925,1289),(9146,1156)],
 [(9146,747),(8656,696),(8436,593),(8327,542),(8510,512),(9146,481)]]
d_yellow = [
 [(5624,1903),(5332,1872),(5310,1841),(5588,1770),(5880,1760),(6040,1800),(5989,1862),(5624,1903)],
 [(9146,1524),(7779,1565),(6902,1592),(6807,1575),(7048,1494),(7706,1391),(8510,1269),(9146,1207)],
 [(9146,722),(8729,665),(8510,583),(8436,542),(8656,522),(9146,495)]]
d_orange = [
 [(9146,1473),(8364,1494),(7706,1483),(8071,1391),(8656,1330),(9146,1285)],
 [(9146,696),(8765,644),(8583,563),(8802,532),(9146,512)]]
d_sky = [[(9146,675),(8838,614),(8729,563),(8948,542),(9146,542)]]

e_orange = [
 [(493,2459),(1297,2404),(2022,2343),(2529,2271),(2891,2148),(2782,2036),(2384,1944),(1659,1909),(1080,1923),(493,1958)],
 [(7021,2537),(7456,2506),(7963,2492),(8543,2510),(9152,2537)],
 [(493,1232),(1225,1252),(2022,1320),(2746,1354),(3471,1375),(4340,1422),(5282,1416),(6007,1381),(6514,1309),(6550,1228),(6261,1105),(6137,1003),(6297,900),(6804,839),(7456,788),(7999,788),(8072,859),(8398,911),(9152,967)],
 [(5826,2050),(5210,2030),(4848,1944),(4645,1852),(4703,1770),(5210,1698),(6079,1653),(6731,1653),(6985,1719),(6949,1852),(6731,1964),(6369,2026),(5826,2050)],
 [(493,604),(855,542),(1181,501),(855,487),(493,495)],
 [(2130,511),(2456,552),(2710,563),(2833,528),(2746,491),(2456,477),(2203,491),(2130,511)],
 [(4761,440),(5137,511),(5572,563),(5790,552),(5971,491),(6514,477),(6478,440),(5862,383),(5427,399),(4848,409),(4761,440)],
 [(9152,716),(8797,716),(8471,644),(8036,583),(7456,559),(7130,516),(7311,450),(7601,389),(7963,399),(8181,460),(8398,495),(9152,487)],
 [(1841,317),(2022,348),(2384,348),(2746,297),(3181,256),(3036,221),(2746,260),(2239,276),(1913,303),(1841,317)],
 [(4065,291),(4232,297),(4340,276),(4196,260),(4087,270),(4065,291)],
 [(6949,356),(7166,358),(7166,348),(6949,348),(6949,356)],
 [(7166,194),(7311,194),(7514,164),(7384,151),(7203,164),(7166,194)],
 [(8616,102),(8652,194),(8869,215),(8942,174),(8760,143),(8724,102)],
 [(9152,164),(9050,102)]]
e_sky = [
 [(1949,2537),(2384,2465),(2964,2373),(3362,2240),(3398,2169),(3254,2026),(2891,1923),(2312,1852),(1514,1807),(493,1796)],
 [(493,1391),(1297,1385),(2022,1412),(2746,1442),(3471,1473),(4340,1494),(5282,1473),(6007,1436),(6514,1371),(6840,1289),(6731,1166),(6550,1023),(6659,941),(7021,890),(7384,884),(7746,921),(8471,972),(9152,1027)],
 [(5608,2537),(6369,2445),(7094,2384),(8181,2343),(9152,2306)],
 [(5862,1999),(5355,1974),(5029,1893),(4935,1841),(5137,1760),(5645,1719),(6152,1698),(6587,1739),(6695,1821),(6514,1923),(6224,1981),(5862,1999)],
 [(5029,440),(5282,491),(5572,511),(5703,475),(5609,436),(5282,419),(5029,440)],
 [(7637,470),(7746,487),(7840,466),(7746,450),(7637,470)],
 [(2290,317),(2493,323),(2659,291),(2529,286),(2290,317)]]
e_green = [
 [(9152,1559),(8833,1657),(8652,1821),(8797,2005),(8797,2128),(8543,2189),(7819,2261),(6804,2312),(5645,2404),(4775,2455),(4268,2480),(4050,2465),(3942,2394),(3906,2271),(3761,2107),(3398,1944),(2819,1800),(2022,1739),(1297,1688),(935,1606),(1080,1545),(1659,1500),(2239,1504),(3109,1524),(4196,1541),(5282,1530),(6007,1494),(6804,1432),(7094,1350),(7130,1248),(6913,1125),(6949,1023),(7239,982),(7963,992),(8543,1023),(9152,1095)],
 [(5826,1940),(5427,1919),(5297,1862),(5355,1821),(5862,1760),(6261,1780),(6369,1831),(6261,1903),(5826,1940)]]
e_black = [[(5464,2234),(4920,2220),(4485,2159),(4051,2026),(3543,1852),(3254,1729),(3290,1688),(3761,1647),(4775,1596),(6007,1524),(7094,1453),(7710,1402),(7855,1350),(7782,1299),(7565,1207),(7565,1146),(7819,1095),(8181,1105),(8507,1176),(8579,1228),(8398,1330),(8217,1412),(8181,1534),(8000,1739),(7963,1944),(7819,2066),(7311,2138),(6369,2199),(5464,2234)]]
e_red = [[(5645,2179),(4920,2148),(4340,2046),(3906,1882),(3725,1760),(3906,1698),(4775,1637),(6007,1575),(7094,1520),(7674,1514),(7797,1596),(7674,1780),(7638,1964),(7239,2087),(6369,2152),(5645,2179)]]
e_blue = [[(5790,2128),(5065,2099),(4485,1998),(4123,1855),(4087,1790),(4340,1719),(5282,1647),(6369,1586),(6949,1559),(7384,1575),(7493,1678),(7348,1862),(7094,2015),(6514,2103),(5790,2128)]]
e_yellow = [[(5790,2083),(5137,2056),(4630,1964),(4377,1852),(4377,1790),(4630,1719),(5500,1647),(6369,1606),(6949,1606),(7203,1657),(7203,1780),(7094,1923),(6804,2015),(6369,2066),(5790,2083)]]

f_black = [
 [(2397,2021),(2810,1903),(3244,1798),(3624,1710),(3787,1639),(4005,1543),(4330,1446),(4765,1402),(5199,1398),(5742,1416),(6285,1437),(6828,1472),(6964,1534),(6991,1622),(7100,1692),(7643,1771),(8186,1833),(8821,1917)],
 [(7317,2220),(7914,2158),(8457,2105),(8821,2070)],
 [(4982,461),(5308,514),(5688,552),(5959,535),(5987,496),(5688,452),(5254,429),(4982,434),(4982,461)],
 [(8821,364),(8702,320),(8593,246),(8702,188),(8821,188)]]
f_red = [
 [(2604,2220),(2636,2141),(3027,1991),(3570,1850),(4005,1692),(4330,1551),(4873,1463),(5525,1442),(6285,1463),(6747,1507),(6774,1639),(6937,1718),(7371,1762),(7914,1833),(8620,1947),(8609,2009),(7914,2114),(6828,2220)],
 [(5063,461),(5471,517),(5797,531),(5878,496),(5634,461),(5199,440),(5063,461)],
 [(8821,329),(8647,246),(8756,206),(8821,197)]]
f_blue = [
 [(3489,2220),(3271,2158),(3255,2079),(3570,1938),(4005,1763),(4439,1613),(4873,1534),(5634,1490),(6285,1507),(6502,1551),(6557,1639),(6828,1718),(7371,1789),(7914,1868),(8267,1947),(8240,2009),(7643,2097),(6611,2176),(5878,2216)],
 [(5199,478),(5471,514),(5715,517),(5715,487),(5471,461),(5226,457),(5199,478)]]
f_yellow = [
 [(4005,2158),(3787,2061),(3815,2009),(4222,1842),(4765,1675),(5199,1578),(5742,1543),(6122,1560),(6231,1639),(6394,1701),(6828,1771),(7371,1833),(7952,1947),(7887,2009),(7371,2088),(6828,2123),(5742,2176),(4765,2206),(4005,2158)],
 [(5389,487),(5525,496),(5541,478),(5416,473),(5389,487)],
 [(8821,267),(8740,246),(8821,232)]]
f_orange = [
 [(4249,2009),(4330,2070),(4765,2123),(5634,2126),(6557,2097),(7534,2009),(7654,1947),(7100,1833),(6285,1710),(5579,1675),(5091,1718),(4602,1850),(4249,2009)],
 [(2397,1323),(2702,1200),(3027,1112),(3179,1033),(3081,953),(2702,892),(2702,839),(2973,795),(3288,733),(3081,681),(2891,619),(2919,558),(3353,531),(3679,487),(3951,434),(4385,434),(4765,390),(5634,359),(6014,355),(6557,382),(6584,461),(6530,549),(6421,619),(6476,725),(6367,804),(6177,857),(6285,901),(6720,909),(7154,865),(7589,786),(8186,751),(8821,733)],
 [(3923,953),(4059,1024),(4439,1059),(4873,1071),(5308,1059),(5688,989),(5824,918),(5634,848),(5199,786),(4819,760),(4439,786),(4059,874),(3923,953)],
 [(8821,1669),(8403,1622),(8240,1551),(8186,1463),(7860,1393),(7371,1358),(6774,1314),(6448,1235),(6476,1156),(6828,1103),(7371,1098),(7914,1129),(8349,1129),(8511,1076),(8566,971),(8821,874)],
 [(4455,575),(4575,637),(4873,663),(5145,646),(5215,602),(5036,549),(4765,522),(4493,540),(4455,575)],
 [(3787,223),(3950,259),(3939,320),(4222,329),(4765,320),(5145,294),(4982,253),(4792,241),(4819,197),(4792,141),(4548,144),(4493,197),(4683,241),(4358,267),(4195,197),(3951,188),(3787,223)],
 [(6730,373),(6991,399),(7643,399),(7762,355),(7643,294),(7317,285),(7100,246),(6730,285),(6801,329),(6730,373)],
 [(7263,197),(7371,206),(7643,171),(7968,174),(7806,144),(7480,162),(7263,197)],
 [(8821,464),(8457,399),(8294,303),(8131,285),(7941,232),(8131,211),(8403,179),(8457,109),(8821,127)],
 [(8821,642),(8511,587),(8620,540),(8821,505)],
 [(3271,144),(3353,148),(3396,137),(3299,135),(3271,144)]]
f_sky = [
 [(4721,1947),(4792,2009),(5199,2058),(6014,2070),(6828,2044),(7154,2000),(7328,1947),(6937,1859),(6285,1806),(5688,1777),(5199,1798),(4873,1886),(4721,1947)],
 [(2397,1678),(2756,1551),(3027,1376),(3299,1252),(3679,1182),(4113,1161),(4928,1161),(5742,1152),(5905,1191),(6122,1270),(6557,1349),(7100,1384),(7534,1428),(7724,1499),(7778,1604),(7968,1666),(8403,1710),(8821,1748)],
 [(3342,593),(3462,628),(3842,646),(4113,642),(4222,584),(4439,522),(4656,500),(4928,522),(5417,610),(5824,654),(6177,610),(6421,531),(6448,426),(6177,390),(5471,390),(4873,408),(4439,461),(3951,478),(3679,522),(3380,575),(3342,593)],
 [(4710,285),(4819,299),(4938,285),(4819,271),(4710,285)],
 [(4043,229),(4130,232),(4113,220),(4043,229)],
 [(6937,355),(7154,378),(7589,373),(7670,329),(7208,311),(6910,294),(6937,355)],
 [(6320,1033),(6500,1015),(6900,990),(6890,965),(6400,975),(6320,1033)],
 [(8821,434),(8593,373),(8457,285),(8240,285),(8484,232),(8430,144),(8674,109)]]
f_green = [
 [(5243,1947),(5417,1991),(5742,2018),(6448,2012),(6926,1947),(6720,1894),(6285,1868),(5851,1845),(5362,1894),(5243,1947)],
 [(2397,1801),(2810,1692),(3190,1569),(3516,1393),(3842,1305),(4385,1252),(4873,1247),(5308,1261),(5742,1305),(6285,1367),(6828,1402),(7317,1455),(7507,1587),(7589,1657),(7914,1719),(8349,1771),(8821,1803)],
 [(4738,461),(4928,505),(5417,575),(5851,598),(6177,549),(6275,478),(6231,426),(5634,408),(4928,417),(4765,434),(4738,461)],
 [(7046,347),(7317,368),(7561,347),(7317,320),(7046,347)],
 [(8821,399),(8620,338),(8511,285),(8566,179),(8821,144)]]

g_green = [
 [(3570,2216),(3151,2146),(3016,2070),(3070,1991),(3312,1868),(3581,1727),(3634,1604),(3554,1499),(3312,1376),(3177,1261),(3258,1156),(3473,1085),(3796,1059),(4602,1050),(5570,1011),(5946,1024),(6161,1076),(6215,1164),(6484,1235),(7021,1314),(7451,1354),(7666,1411),(7693,1446),(7559,1507),(7075,1587),(6484,1692),(6306,1745),(6312,1789),(6538,1842),(6968,1868),(7828,1894),(8817,1912)],
 [(2392,686),(2989,698),(3527,707),(3903,681),(4226,619),(4710,572),(5140,610),(5677,654),(5855,698),(5677,751),(5516,795),(5597,839),(5839,853),(6215,821),(6430,769),(6403,707),(6107,637),(6215,558),(6538,514),(6565,478),(6511,417),(6564,382),(5677,385),(4710,382),(4441,443),(3796,456),(3258,487),(2882,531),(2392,549)],
 [(5113,492),(5301,505),(5408,492),(5247,478),(5113,492)],
 [(6860,355),(7075,382),(7505,390),(7548,329),(7129,311),(6941,320),(6860,355)],
 [(3930,229),(4091,250),(4333,223),(4710,250),(4871,215),(4817,179),(4602,153),(4548,188),(4300,215),(3930,215),(3930,229)],
 [(7333,185),(7424,193),(7720,148),(7559,144),(7333,185)],
 [(2532,188),(2694,197),(2640,174),(2532,188)],
 [(8817,654),(8365,628),(8177,575),(8150,514),(8365,452),(8580,420),(8817,434)],
 [(8817,364),(8419,364),(8069,311),(8311,267),(8473,241),(8365,171),(8527,118),(8817,127)]]
g_purple = [
 [(6941,2216),(6618,2158),(6564,2070),(6752,2053),(7290,2035),(7935,2053),(8419,2088),(8817,2141)],
 [(4226,1323),(4387,1428),(4710,1569),(5140,1631),(5516,1639),(6215,1595),(6752,1534),(6951,1455),(6752,1393),(6215,1314),(5839,1252),(5516,1200),(5032,1178),(4602,1208),(4280,1270),(4226,1323)],
 [(2451,602),(2774,637),(3258,637),(3688,602),(4333,549),(5032,549),(5677,602),(5946,566),(6322,496),(6349,443),(6215,417),(4817,417),(4387,452),(3527,487),(2720,558),(2451,602)]]
g_black = [
 [(2855,593),(3043,610),(3527,602),(4064,558),(4495,540),(5032,558),(5570,575),(5839,558),(6134,478),(6107,452),(5677,434),(5032,426),(4710,417),(4441,470),(3796,487),(3258,540),(2882,575),(2855,593)],
 [(8817,361),(8473,338),(8204,299),(8473,246),(8580,197),(8446,167),(8817,162)]]
g_red = [
 [(3634,558),(4064,549),(4602,514),(5140,540),(5624,558),(5892,496),(5839,452),(5140,434),(4710,443),(4387,478),(3957,496),(3634,558)],
 [(8817,338),(8527,320),(8231,294),(8580,241),(8688,179),(8817,179)]]
g_blue = [[(4548,505),(5140,531),(5677,540),(5812,496),(5624,461),(5086,443),(4710,461),(4548,505)]]
g_yellow = [
 [(4736,487),(5086,517),(5570,526),(5731,496),(5570,470),(5086,456),(4817,464),(4736,487)],
 [(8817,329),(8580,306),(8365,294),(8580,267),(8741,215),(8817,223)]]
g_orange = [[(4844,487),(5193,510),(5570,514),(5624,487),(5247,470),(4925,470),(4844,487)]]
g_sky = [
 [(4968,487),(5247,510),(5516,510),(5543,487),(5220,473),(4968,487)],
 [(8817,276),(8710,259),(8817,236)]]


def px_axes(left, top, right, bottom):
    return fig.add_axes([left/W, 1-bottom/H, (right-left)/W, (bottom-top)/H])


def ptext(px, py, s, ha='left', size=FS_NOTE):
    fig.text(px/W, 1-py/H, s, ha=ha, va='center', fontsize=size)


def shift_labels(labels, dx=0, dy=0):
    for lab in labels:
        lab.set_transform(lab.get_transform() + ScaledTranslation(dx/100, dy/100, fig.dpi_scale_trans))


def smooth_line(ax, pts, color, lw):
    # quadratic segments through the midpoints of the read trace
    pts = np.array(pts, float)
    closed = len(pts) > 2 and (pts[0] == pts[-1]).all()
    if len(pts) == 2:
        verts, codes = list(pts), [Path.MOVETO, Path.LINETO]
    elif closed:
        p = pts[:-1]
        n = len(p)
        verts = [(p[0]+p[1])/2]
        codes = [Path.MOVETO]
        for i in range(1, n+1):
            verts += [p[i % n], (p[i % n]+p[(i+1) % n])/2]
            codes += [Path.CURVE3, Path.CURVE3]
    else:
        verts = [pts[0]]
        codes = [Path.MOVETO]
        for i in range(1, len(pts)-1):
            end = pts[i+1] if i == len(pts)-2 else (pts[i]+pts[i+1])/2
            verts += [pts[i], end]
            codes += [Path.CURVE3, Path.CURVE3]
    ax.add_patch(PathPatch(Path(verts, codes), fill=False, edgecolor=color, lw=lw, zorder=3))


fig = plt.figure(figsize=(W/100, H/100), dpi=100)

# a) ------------------------------------------------------------
ax = px_axes(69, 10, 694, 453)
for curve, col, lab in [(b_curve, SKY, 'B'), (v_curve, GREEN, 'V'), (r_curve, RED, 'R-0.4'), (i_curve, YELLOW, 'I-0.4')]:
    arr = np.array(curve)
    ax.plot(arr[:, 0], arr[:, 1], color=col, lw=1.6, label=lab)
ax.set_xlim(0, 2944)
ax.set_ylim(0, 1.047)
ax.set_xticks([500, 1000, 1500, 2000, 2500])
ax.set_xticks([250, 750, 1250, 1750, 2250, 2750], minor=True)
ax.set_yticks([0, .2, .4, .6, .8, 1.0])
ax.set_yticklabels(['0.0', '0.2', '0.4', '0.6', '0.8', '1.0'])
ax.set_xticklabels(['500', '1000', '1500', '2000', '2500'])
ax.tick_params(which='both', direction='in', top=True, right=True, length=6, width=.8, color='#444444', labelsize=FS_TICK)
ax.tick_params(axis='x', pad=5)
ax.tick_params(axis='y', pad=6)
shift_labels(ax.get_xticklabels(), dx=4)
ylabs = ax.get_yticklabels()
shift_labels(ylabs[:1], dy=-17)
shift_labels(ylabs[1:], dy=4)
ax.plot([500, 500], [.118, .168], color='k', lw=1)
ax.plot([1712, 1712], [.533, .587], color='k', lw=1)
ptext(177, 415, 'P=502 +/-20 d')
ptext(435, 238, 'P=1707 +/- 70 d')
ptext(86, 432, 'a)')
ptext(382, 492, 'Period', ha='center', size=18)
fig.text(10/W, 1-230/H, '\u03d1', rotation=90, ha='center', va='center', fontsize=19)
ax.legend(loc='lower right', bbox_to_anchor=(.975, .012), frameon=False, markerfirst=False, fontsize=15.8,
          handlelength=1.85, handletextpad=.5, labelspacing=.02, borderpad=0, borderaxespad=0)
for s in ax.spines.values():
    s.set_color('#444444')
    s.set_linewidth(1.1)


# b), c) --------------------------------------------------------
def folded(ax, pts, marker, color, size, mew=.7):
    arr = np.array(pts)
    ph = np.r_[arr[:, 0], arr[:, 0]+1]
    mag = np.r_[arr[:, 1], arr[:, 1]]
    if marker == 'o':
        ax.plot(ph, mag, ls='none', marker='o', ms=size, mfc='k', mec='k', mew=0, zorder=5)
    else:
        ax.plot(ph, mag, ls='none', marker=marker, ms=size, mfc='none', mec=color, mew=mew, alpha=.85)


phase_sets = [
    (px_axes(802, 9, 1417, 453), [(b_I, b_I_k, ORANGE), (b_R, b_R_k, RED), (b_V, b_V_k, GREEN), (b_B, b_B_k, SKY)], b_V_o),
    (px_axes(1527, 9, 2142, 453), [(c_I, c_I_k, ORANGE), (c_R, c_R_k, RED), (c_V, c_V_k, GREEN), (c_B, c_B_k, SKY)], c_V_o),
]
for ax, bands, plus in phase_sets:
    for sq, blk, col in bands:
        folded(ax, sq, 's', col, 4.2)
    folded(ax, plus, '+', ORANGE, 5, mew=.8)
    for sq, blk, col in bands:
        folded(ax, blk, 'o', 'k', 4.3)
    ax.set_xlim(-.6, 1.6)
    ax.set_ylim(14.545, 10.255)
    ax.set_xticks(np.arange(-.6, 1.61, .2))
    ax.set_xticklabels(['-0.6', '-0.4', '-0.2', '0.0', '0.2', '0.4', '0.6', '0.8', '1.0', '1.2', '1.4', '1.6'])
    ax.set_yticks(np.arange(10.5, 14.51, .5))
    ax.set_yticklabels(['10.5', '11.0', '11.5', '12.0', '12.5', '13.0', '13.5', '14.0', '14.5'])
    ax.tick_params(direction='in', top=True, right=True, length=6, width=.8, color='#444444', labelsize=FS_TICK)
    ax.tick_params(axis='x', pad=5)
    ax.tick_params(axis='y', pad=6)
    shift_labels(ax.get_xticklabels(), dx=4)
    shift_labels(ax.get_yticklabels(), dy=4)
    for s in ax.spines.values():
        s.set_color('#444444')
        s.set_linewidth(1.1)

ptext(1405, 93, 'I+0.5', ha='right')
ptext(1405, 166, 'R', ha='right')
ptext(1097, 194, '1707 d', ha='center')
ptext(1404, 279, 'V', ha='right')
ptext(1402, 397, 'B-1', ha='right')
ptext(811, 432, 'b)')
ptext(1096, 435, 'HJD0=2454410.0', ha='center')
ptext(1109, 492, 'phase', ha='center', size=18)
fig.text(736/W, 1-232/H, 'magnitude', rotation=90, ha='center', va='center', fontsize=17.5)

ptext(2129, 83, 'I+0.5', ha='right')
ptext(2127, 183, 'R', ha='right')
ptext(1822, 194, '502 d', ha='center')
ptext(2124, 313, 'V', ha='right')
ptext(2128, 433, 'B-1', ha='right')
ptext(1535, 432, 'c)')
ptext(1822, 435, 'HJD0=2454698', ha='center')
ptext(1834, 492, 'phase', ha='center', size=18)
fig.text(1461/W, 1-232/H, 'magnitude', rotation=90, ha='center', va='center', fontsize=17.5)


# d) - g) -------------------------------------------------------
def wavelet_panel(box, cbar_x, amp, x_nodes, y_nodes, xlim, ylim, xticks, yticks, vmax, cticks, cone, traces, title, ylabel_x, ylabel_y, xlabel_y):
    left, top, right, bottom = box
    ax = px_axes(left, top, right, bottom)
    mesh = ax.pcolormesh(x_nodes, y_nodes, np.array(amp, float), cmap='gnuplot', vmin=0, vmax=vmax, shading='gouraud', zorder=1)
    for color, lw, groups in traces:
        for pts in groups:
            smooth_line(ax, pts, color, lw)
    for seg in cone:
        arr = np.array(seg)
        ax.plot(arr[:, 0], arr[:, 1], color='white', lw=2.2, zorder=4)
    ax.set_xlim(*xlim)
    ax.set_ylim(*ylim)
    ax.set_xticks(xticks)
    ax.set_yticks(yticks)
    ax.set_axisbelow(False)
    ax.tick_params(direction='in', top=True, right=True, length=10.5, width=.9, color='#222222', labelsize=FS_HEAT)
    ax.tick_params(axis='x', pad=8)
    ax.tick_params(axis='y', pad=13)
    shift_labels(ax.get_xticklabels(), dx=4)
    shift_labels(ax.get_yticklabels(), dy=4)
    for s in ax.spines.values():
        s.set_color('#333333')
        s.set_linewidth(1.2)
    ax.set_title(title, fontsize=FS_LABEL, pad=16)
    mid = (left+right)/2
    ptext(mid, xlabel_y, 'HJD-2450000', ha='center', size=FS_LABEL)
    fig.text(ylabel_x/W, 1-ylabel_y/H, 'Period', rotation=90, ha='center', va='center', fontsize=21.5)
    cax = px_axes(cbar_x, top, cbar_x+42, bottom)
    cb = fig.colorbar(mesh, cax=cax)
    cb.set_ticks(cticks)
    cax.tick_params(direction='in', left=True, right=True, length=7, width=.9, color='#222222', labelsize=FS_HEAT, pad=12)
    shift_labels(cax.get_yticklabels(), dy=4)
    cb.outline.set_edgecolor('#555555')
    return ax


wavelet_panel((128, 624, 950, 1156), 971, amp_d, hjd_long, periods_25, (503, 9146), (0, 2541),
              range(1000, 9001, 1000), range(0, 2501, 500), 200, range(0, 201, 20), cone_d,
              [(PURPLE, .9, d_purple), (GREEN, 1.3, d_green), ('black', 1.5, d_black), (RED, 1.3, d_red),
               (BLUE, 1.3, d_blue), (YELLOW, 1.4, d_yellow), (ORANGE, 1.3, d_orange), (SKY, 1.3, d_sky)],
              'd) B-band', 38, 889, 1216)
wavelet_panel((1220, 624, 2043, 1156), 2064, amp_e, hjd_long, periods_25, (493, 9152), (0, 2541),
              range(1000, 9001, 1000), range(0, 2501, 500), 250, range(0, 251, 50), cone_e,
              [(ORANGE, 1.3, e_orange), (SKY, 1.3, e_sky), (GREEN, 1.3, e_green), ('black', 1.5, e_black),
               (RED, 1.3, e_red), (BLUE, 1.3, e_blue), (YELLOW, 1.4, e_yellow)],
              'e) V-band', 1130, 889, 1216)
wavelet_panel((128, 1389, 950, 1920), 971, amp_f, hjd_short, periods_22, (2397, 8820), (0, 2220),
              range(3000, 8001, 1000), range(0, 2001, 500), 120, range(0, 121, 20), cone_f,
              [(ORANGE, 1.3, f_orange), (SKY, 1.3, f_sky), (GREEN, 1.3, f_green), ('black', 1.5, f_black),
               (RED, 1.3, f_red), (BLUE, 1.3, f_blue), (YELLOW, 1.4, f_yellow)],
              'f) R-band', 38, 1654, 1978)
wavelet_panel((1220, 1389, 2043, 1920), 2064, amp_g, hjd_short, periods_22, (2392, 8823), (0, 2220),
              range(3000, 8001, 1000), range(0, 2001, 500), 200, range(0, 201, 20), cone_g,
              [(PURPLE, .9, g_purple), (GREEN, 1.3, g_green), ('black', 1.5, g_black), (RED, 1.3, g_red),
               (BLUE, 1.3, g_blue), (YELLOW, 1.4, g_yellow), (ORANGE, 1.3, g_orange), (SKY, 1.3, g_sky)],
              'g) I-band', 1130, 1654, 1978)

fig.savefig('out.png', dpi=100)
